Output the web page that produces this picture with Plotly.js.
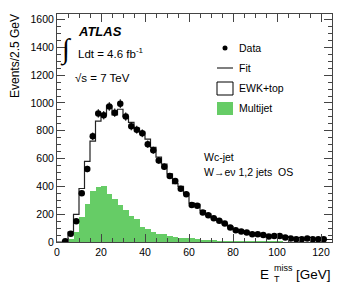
<!DOCTYPE html>
<html><head><meta charset="utf-8">
<script src="https://cdn.plot.ly/plotly-3.0.1.min.js"></script>
<style>html,body{margin:0;padding:0;background:#fff}#chart{width:349px;height:288px}</style>
</head><body><div id="chart"></div>
<script>
// ---- data ----
const binLowEdges = [0,2.5,5,7.5,10,12.5,15,17.5,20,22.5,25,27.5,30,32.5,35,37.5,40,42.5,45,47.5,
  50,52.5,55,57.5,60,62.5,65,67.5,70,72.5,75,77.5,80,82.5,85,87.5,90,92.5,95,97.5,
  100,102.5,105,107.5,110,112.5,115,117.5,120,122.5];
const fitValues = [0,10,72,198,385,580,725,870,914,979,914,955,902,860,820,790,740,680,610,560,
  490,420,400,350,280,270,225,200,175,155,130,110,90,80,70,60,55,50,45,42,
  38,34,30,28,26,24,22,20,19,18];
const multijetValues = [0,5,20,75,180,272,367,397,404,344,308,265,229,188,164,108,92,72,56,58,
  43,38,32,28,26,22,15,14,12,10,9,8,6,6,5,5,5,4,4,4,
  4,3,3,3,3,3,3,3,3,3];
const dataCenters = [3.75,6.25,8.75,11.25,13.75,16.25,18.75,21.25,23.75,26.25,28.75,31.25,33.75,36.25,38.75,
  41.25,43.75,46.25,48.75,51.25,53.75,56.25,58.75,61.25,63.75,66.25,68.75,71.25,73.75,76.25,78.75,
  81.25,83.75,86.25,88.75,91.25,93.75,96.25,98.75,101.25,103.75,106.25,108.75,111.25,113.75,116.25,118.75,121.25];
const dataValues = [5,60,150,350,525,760,925,912,975,930,995,902,832,808,782,
  704,660,587,541,475,439,383,344,266,260,212,193,171,152,133,104,
  84,75,68,56,56,51,39,43,43,32,25,20,20,25,20,20,20];
const xTickValues = [0,20,40,60,80,100,120];
const yTickValues = [0,200,400,600,800,1000,1200,1400,1600];
const legendLabels = ['Data','Fit','EWK+top','Multijet'];

// ---- geometry ----
const BIN_WIDTH = 2.5;
const W = 349, H = 288;
const M = {l:57, r:17, t:14, b:46};
const PW = W - M.l - M.r, PH = H - M.t - M.b;
const px = p => (p - M.l) / PW;
const py = p => (H - M.b - p) / PH;

const GREEN = 'rgb(102,204,102)';
const FONT = 'Liberation Sans, Arial, Helvetica, sans-serif';
const AXC = '#444';

const binCenters = binLowEdges.map(e => e + BIN_WIDTH / 2);
const stepX = binLowEdges.concat([binLowEdges[binLowEdges.length - 1] + BIN_WIDTH]);
const stepY = fitValues.concat([fitValues[fitValues.length - 1]]);

const traces = [
  {type:'bar', x:binCenters, y:multijetValues, width:BIN_WIDTH,
   marker:{color:GREEN, line:{width:0}}, hoverinfo:'skip', showlegend:false},
  {type:'scatter', mode:'lines', x:stepX, y:stepY, line:{shape:'hv', color:'#222', width:1.2},
   hoverinfo:'skip', showlegend:false},
  {type:'scatter', mode:'markers', x:dataCenters, y:dataValues,
   marker:{color:'black', size:6.5},
   error_y:{type:'sqrt', visible:true, thickness:1, width:0, color:'black'},
   showlegend:false}
];

const axisCommon = {
  ticks:'inside', tickcolor:AXC, tickwidth:1, showline:true, linecolor:AXC, linewidth:1,
  mirror:'allticks', showgrid:false, zeroline:false,
  tickfont:{family:FONT, size:10.5, color:'#000'}
};

const shapes = [
  {type:'circle', xref:'paper', yref:'paper', x0:px(222.5), x1:px(227.5), y0:py(50.5), y1:py(45.5),
   fillcolor:'black', line:{width:0}},
  {type:'line', xref:'paper', yref:'paper', x0:px(217), x1:px(233), y0:py(68), y1:py(68),
   line:{color:'#555', width:1.5}},
  {type:'rect', xref:'paper', yref:'paper', x0:px(217), x1:px(233), y0:py(95), y1:py(82),
   fillcolor:'white', line:{color:'#000', width:1}},
  {type:'rect', xref:'paper', yref:'paper', x0:px(217), x1:px(233), y0:py(115), y1:py(102),
   fillcolor:GREEN, line:{width:0}}
];

function ann(text, x, y, size, opts) {
  return Object.assign({text:text, xref:'paper', yref:'paper', x:px(x), y:py(y),
    xanchor:'left', yanchor:'middle', showarrow:false,
    font:{family:FONT, size:size, color:'#000'}}, opts || {});
}

const annotations = [
  ann(legendLabels[0], 237, 48, 10.5),
  ann(legendLabels[1], 237, 68, 10.5),
  ann(legendLabels[2], 237, 88, 10.5),
  ann(legendLabels[3], 237, 108, 10.5),
  ann('<b><i>ATLAS</i></b>', 76, 31, 13),
  ann('\u222B', 66, 49, 28, {xanchor:'center', font:{family:'Liberation Serif, serif', size:28, color:'#000'}}),
  ann('Ldt = 4.6 fb<sup>-1</sup>', 76, 53, 11.5),
  ann('\u221As = 7 TeV', 73, 78, 11.5),
  ann('Wc-jet', 202, 157, 10.5),
  ann('W\u2192e\u03BD 1,2 jets\u00A0\u00A0OS', 202, 172, 10.5),
  ann('Events/2.5 GeV', 15, 56, 12, {xanchor:'center', textangle:-90}),
  // x-axis title, ROOT style with stacked super/subscript
  ann('E', 271, 274, 13.5, {xanchor:'right'}),
  ann('miss', 271.5, 268, 9, {xanchor:'left'}),
  ann('T', 271.5, 279, 9, {xanchor:'left'}),
  ann('[GeV]', 333, 274, 13.5, {xanchor:'right'})
];

const layout = {
  width:W, height:H, margin:M, paper_bgcolor:'white', plot_bgcolor:'white',
  showlegend:false, bargap:0, barmode:'overlay',
  xaxis:Object.assign({}, axisCommon, {range:[0,125], tickvals:xTickValues, ticktext:xTickValues.map(String),
    ticklen:8, minor:{dtick:5, tick0:0, ticklen:4, ticks:'inside', tickcolor:AXC}}),
  yaxis:Object.assign({}, axisCommon, {range:[0,1640], tickvals:yTickValues, ticktext:yTickValues.map(String),
    ticklen:8, minor:{dtick:50, tick0:0, ticklen:4, ticks:'inside', tickcolor:AXC}}),
  shapes:shapes, annotations:annotations
};

Plotly.newPlot('chart', traces, layout, {staticPlot:true, displayModeBar:false});
</script></body></html>
